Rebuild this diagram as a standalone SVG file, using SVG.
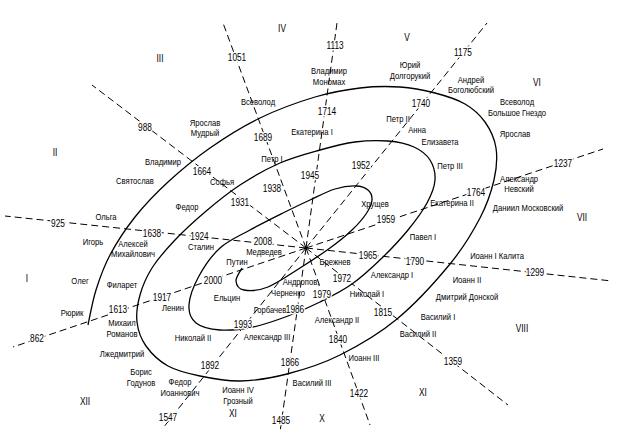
<svg xmlns="http://www.w3.org/2000/svg" width="626" height="439" viewBox="0 0 626 439">
<style>
text{font-family:"Liberation Sans",Arial,sans-serif;fill:#000;text-anchor:middle}
.yr{font-size:10px;stroke:#fff;stroke-width:3;paint-order:stroke;stroke-linejoin:round}
.nm{font-size:9.2px}
.sec{font-size:10px}
.ray{stroke:#000;stroke-width:1;stroke-dasharray:7 4;fill:none}
.spiral{stroke:#000;stroke-width:1.3;fill:none}
</style>
<rect width="626" height="439" fill="#fff"/>
<g id="connectors">
<line class="ray" x1="306" y1="248" x2="223" y2="23"/>
<line class="ray" x1="306" y1="248" x2="92" y2="85"/>
<line class="ray" x1="306" y1="248" x2="5" y2="216"/>
<line class="ray" x1="306" y1="248" x2="13" y2="347"/>
<line class="ray" x1="306" y1="248" x2="163" y2="428"/>
<line class="ray" x1="306" y1="248" x2="280" y2="432"/>
<line class="ray" x1="306" y1="248" x2="370" y2="425"/>
<line class="ray" x1="306" y1="248" x2="508" y2="405"/>
<line class="ray" x1="306" y1="248" x2="612" y2="281"/>
<line class="ray" x1="306" y1="248" x2="603" y2="149"/>
<line class="ray" x1="306" y1="248" x2="487" y2="23"/>
<line class="ray" x1="306" y1="248" x2="337" y2="23"/>
</g>
<g id="spiral">
<path class="spiral" d="M242,268 C241,270.2 235.7,277.3 236,281 C236.3,284.7 238.7,289 244,290 C249.3,291 258.7,290.7 268,287 C277.3,283.3 289.7,274.5 300,268 C310.3,261.5 321.3,254.3 330,248 C338.7,241.7 346,235.7 352,230 C358,224.3 362.7,219 366,214 C369.3,209 371.7,204 372,200 C372.3,196 370.7,192.3 368,190 C365.3,187.7 361.5,186.2 356,186 C350.5,185.8 342.7,186.7 335,189 C327.3,191.3 318.3,196.2 310,200 C301.7,203.8 295,207 285,212 C275,217 260.8,224 250,230 C239.2,236 228.5,240.3 220,248 C211.5,255.7 204.2,266.5 199,276 C193.8,285.5 189.5,297.2 189,305 C188.5,312.8 190.8,318.8 196,323 C201.2,327.2 210.5,329.3 220,330 C229.5,330.7 241.7,329.3 253,327 C264.3,324.7 276.8,320.2 288,316 C299.2,311.8 309.3,307.3 320,302 C330.7,296.7 341.7,291.3 352,284 C362.3,276.7 372.7,267 382,258 C391.3,249 400.5,239.2 408,230 C415.5,220.8 422.5,211.3 427,203 C431.5,194.7 434.5,187.2 435,180 C435.5,172.8 433.5,165.5 430,160 C426.5,154.5 421,150.2 414,147 C407,143.8 397.8,141.8 388,141 C378.2,140.2 366.3,140.5 355,142 C343.7,143.5 332.5,146.5 320,150 C307.5,153.5 293.3,157.2 280,163 C266.7,168.8 252.5,176.8 240,185 C227.5,193.2 215.8,202.8 205,212 C194.2,221.2 183.8,230.7 175,240 C166.2,249.3 157.8,258.8 152,268 C146.2,277.2 142.5,286 140,295 C137.5,304 136,313.5 137,322 C138,330.5 140.8,338.7 146,346 C151.2,353.3 159,361 168,366 C177,371 188,373.5 200,376 C212,378.5 225.5,381.3 240,381 C254.5,380.7 270.3,378.3 287,374 C303.7,369.7 321.7,364.2 340,355 C358.3,345.8 378.7,334.2 397,319 C415.3,303.8 436.2,280.8 450,264 C463.8,247.2 472.7,232 480,218 C487.3,204 491.3,191.7 494,180 C496.7,168.3 497.5,157.7 496,148 C494.5,138.3 490.2,129.3 485,122 C479.8,114.7 473.3,108.8 465,104 C456.7,99.2 445.8,95.8 435,93 C424.2,90.2 412.5,87.8 400,87 C387.5,86.2 374.2,86.3 360,88 C345.8,89.7 331.7,92 315,97 C298.3,102 277.5,109.5 260,118 C242.5,126.5 225.3,137.3 210,148 C194.7,158.7 180.5,170.5 168,182 C155.5,193.5 144.7,204.8 135,217 C125.3,229.2 116.5,242.8 110,255 C103.5,267.2 99.7,278.3 96,290 C92.3,301.7 89.3,319.2 88,325"/>
</g>
<g id="years">
<text class="yr" transform="translate(237,60.6) scale(.83,1)">1051</text>
<text class="yr" transform="translate(145,130.6) scale(.83,1)">988</text>
<text class="yr" transform="translate(58,226.6) scale(.83,1)">925</text>
<text class="yr" transform="translate(37,341.6) scale(.83,1)">862</text>
<text class="yr" transform="translate(168,420.6) scale(.83,1)">1547</text>
<text class="yr" transform="translate(281,423.6) scale(.83,1)">1485</text>
<text class="yr" transform="translate(359,396.6) scale(.83,1)">1422</text>
<text class="yr" transform="translate(453,364.6) scale(.83,1)">1359</text>
<text class="yr" transform="translate(535,275.6) scale(.83,1)">1299</text>
<text class="yr" transform="translate(563,166.6) scale(.83,1)">1237</text>
<text class="yr" transform="translate(463,55.6) scale(.83,1)">1175</text>
<text class="yr" transform="translate(335,48.6) scale(.83,1)">1113</text>
<text class="yr" transform="translate(263,140.6) scale(.83,1)">1689</text>
<text class="yr" transform="translate(202,174.6) scale(.83,1)">1664</text>
<text class="yr" transform="translate(152,236.6) scale(.83,1)">1638</text>
<text class="yr" transform="translate(118,312.6) scale(.83,1)">1613</text>
<text class="yr" transform="translate(210,368.6) scale(.83,1)">1892</text>
<text class="yr" transform="translate(290,365.6) scale(.83,1)">1866</text>
<text class="yr" transform="translate(338,342.6) scale(.83,1)">1840</text>
<text class="yr" transform="translate(383,315.6) scale(.83,1)">1815</text>
<text class="yr" transform="translate(415,264.6) scale(.83,1)">1790</text>
<text class="yr" transform="translate(476,195.6) scale(.83,1)">1764</text>
<text class="yr" transform="translate(421,106.6) scale(.83,1)">1740</text>
<text class="yr" transform="translate(327,114.6) scale(.83,1)">1714</text>
<text class="yr" transform="translate(272,191.6) scale(.83,1)">1938</text>
<text class="yr" transform="translate(240,205.6) scale(.83,1)">1931</text>
<text class="yr" transform="translate(199.5,239.8) scale(.83,1)">1924</text>
<text class="yr" transform="translate(162,300.6) scale(.83,1)">1917</text>
<text class="yr" transform="translate(243,327.6) scale(.83,1)">1993</text>
<text class="yr" transform="translate(295,312.6) scale(.83,1)">1986</text>
<text class="yr" transform="translate(322,297.6) scale(.83,1)">1979</text>
<text class="yr" transform="translate(342,281.6) scale(.83,1)">1972</text>
<text class="yr" transform="translate(368,258.6) scale(.83,1)">1965</text>
<text class="yr" transform="translate(386,222.6) scale(.83,1)">1959</text>
<text class="yr" transform="translate(361,168.6) scale(.83,1)">1952</text>
<text class="yr" transform="translate(310,178.6) scale(.83,1)">1945</text>
<text class="yr" transform="translate(264,245.2) scale(.83,1)">2008.</text>
<text class="yr" transform="translate(213,283.6) scale(.83,1)">2000</text>
</g>
<g id="rulers">
<text class="nm" transform="translate(258,105.3) scale(.83,1)">Всеволод</text>
<text class="nm" transform="translate(205,126.3) scale(.83,1)">Ярослав<tspan x="0" dy="10">Мудрый</tspan></text>
<text class="nm" transform="translate(329,74.3) scale(.83,1)">Владимир<tspan x="0" dy="11">Мономах</tspan></text>
<text class="nm" transform="translate(312,135.3) scale(.83,1)">Екатерина I</text>
<text class="nm" transform="translate(410,68.3) scale(.83,1)">Юрий<tspan x="0" dy="11">Долгорукий</tspan></text>
<text class="nm" transform="translate(471,83.3) scale(.83,1)">Андрей<tspan x="0" dy="10">Боголюбский</tspan></text>
<text class="nm" transform="translate(517,105.3) scale(.83,1)">Всеволод<tspan x="0" dy="11">Большое Гнездо</tspan></text>
<text class="nm" transform="translate(398,122.3) scale(.83,1)">Петр II</text>
<text class="nm" transform="translate(417,133.3) scale(.83,1)">Анна</text>
<text class="nm" transform="translate(515,137.3) scale(.83,1)">Ярослав</text>
<text class="nm" transform="translate(440,145.3) scale(.83,1)">Елизавета</text>
<text class="nm" transform="translate(450,169.3) scale(.83,1)">Петр III</text>
<text class="nm" transform="translate(519,182.3) scale(.83,1)">Александр<tspan x="0" dy="10">Невский</tspan></text>
<text class="nm" transform="translate(375,207.3) scale(.83,1)">Хрущев</text>
<text class="nm" transform="translate(452,206.3) scale(.83,1)">Екатерина II</text>
<text class="nm" transform="translate(528,211.3) scale(.83,1)">Даниил Московский</text>
<text class="nm" transform="translate(423,240.3) scale(.83,1)">Павел I</text>
<text class="nm" transform="translate(497,259.3) scale(.83,1)">Иоанн I Калита</text>
<text class="nm" transform="translate(335,265.3) scale(.83,1)">Брежнев</text>
<text class="nm" transform="translate(392,278.3) scale(.83,1)">Александр I</text>
<text class="nm" transform="translate(467,283.3) scale(.83,1)">Иоанн II</text>
<text class="nm" transform="translate(301,285.3) scale(.83,1)">Андропов,</text>
<text class="nm" transform="translate(288,296.3) scale(.83,1)">Черненко</text>
<text class="nm" transform="translate(367,297.3) scale(.83,1)">Николай I</text>
<text class="nm" transform="translate(467,300.3) scale(.83,1)">Дмитрий Донской</text>
<text class="nm" transform="translate(438,320.3) scale(.83,1)">Василий I</text>
<text class="nm" transform="translate(337,323.3) scale(.83,1)">Александр II</text>
<text class="nm" transform="translate(418,337.3) scale(.83,1)">Василий II</text>
<text class="nm" transform="translate(364,361.3) scale(.83,1)">Иоанн III</text>
<text class="nm" transform="translate(312,386.3) scale(.83,1)">Василий III</text>
<text class="nm" transform="translate(270,313.3) scale(.83,1)">Горбачев</text>
<text class="nm" transform="translate(267,340.3) scale(.83,1)">Александр III</text>
<text class="nm" transform="translate(227,301.3) scale(.83,1)">Ельцин</text>
<text class="nm" transform="translate(237,264.8) scale(.83,1)">Путин</text>
<text class="nm" transform="translate(264,255) scale(.83,1)">Медведев</text>
<text class="nm" transform="translate(201,250.3) scale(.83,1)">Сталин</text>
<text class="nm" transform="translate(173,311.3) scale(.83,1)">Ленин</text>
<text class="nm" transform="translate(193,341.3) scale(.83,1)">Николай II</text>
<text class="nm" transform="translate(238,393.3) scale(.83,1)">Иоанн IV<tspan x="0" dy="11">Грозный</tspan></text>
<text class="nm" transform="translate(180,385.3) scale(.83,1)">Федор<tspan x="0" dy="11">Иоаннович</tspan></text>
<text class="nm" transform="translate(141,375.3) scale(.83,1)">Борис<tspan x="0" dy="11">Годунов</tspan></text>
<text class="nm" transform="translate(122,357.3) scale(.83,1)">Лжедмитрий</text>
<text class="nm" transform="translate(122,326.3) scale(.83,1)">Михаил<tspan x="0" dy="11">Романов</tspan></text>
<text class="nm" transform="translate(122,288.3) scale(.83,1)">Филарет</text>
<text class="nm" transform="translate(133,247.3) scale(.83,1)">Алексей<tspan x="0" dy="10">Михайлович</tspan></text>
<text class="nm" transform="translate(187,210.3) scale(.83,1)">Федор</text>
<text class="nm" transform="translate(222,185.3) scale(.83,1)">Софья</text>
<text class="nm" transform="translate(272,162.3) scale(.83,1)">Петр I</text>
<text class="nm" transform="translate(163,165.3) scale(.83,1)">Владимир</text>
<text class="nm" transform="translate(135,184.3) scale(.83,1)">Святослав</text>
<text class="nm" transform="translate(106,220.3) scale(.83,1)">Ольга</text>
<text class="nm" transform="translate(93,245.3) scale(.83,1)">Игорь</text>
<text class="nm" transform="translate(80,284.3) scale(.83,1)">Олег</text>
<text class="nm" transform="translate(72,316.3) scale(.83,1)">Рюрик</text>
</g>
<g id="sectors">
<text class="sec" transform="translate(27,281.6) scale(.83,1)">I</text>
<text class="sec" transform="translate(55,155.6) scale(.83,1)">II</text>
<text class="sec" transform="translate(160,61.6) scale(.83,1)">III</text>
<text class="sec" transform="translate(282,31.6) scale(.83,1)">IV</text>
<text class="sec" transform="translate(407,40.6) scale(.83,1)">V</text>
<text class="sec" transform="translate(537,85.6) scale(.83,1)">VI</text>
<text class="sec" transform="translate(582,220.6) scale(.83,1)">VII</text>
<text class="sec" transform="translate(522,331.6) scale(.83,1)">VIII</text>
<text class="sec" transform="translate(423,395.6) scale(.83,1)">XI</text>
<text class="sec" transform="translate(322,421.6) scale(.83,1)">X</text>
<text class="sec" transform="translate(233,416.6) scale(.83,1)">XI</text>
<text class="sec" transform="translate(85,404.6) scale(.83,1)">XII</text>
</g>
</svg>
